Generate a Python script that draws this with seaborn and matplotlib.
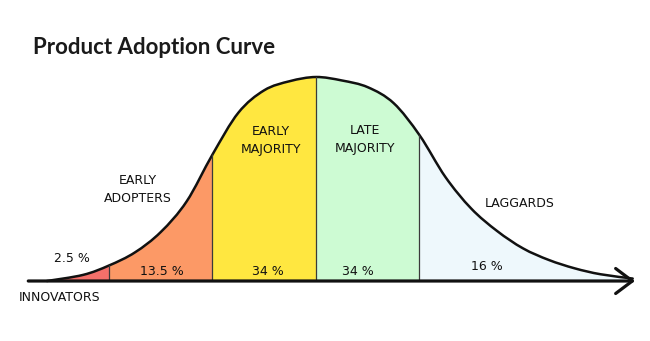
import numpy as np
import pandas as pd
import matplotlib
matplotlib.use("Agg")
import matplotlib.pyplot as plt
from matplotlib.path import Path
from matplotlib.patches import PathPatch
import seaborn as sns

# Adopter groups, their share of the market and the edges between them (in standard deviations)
segments = ["INNOVATORS", "EARLY ADOPTERS", "EARLY MAJORITY", "LATE MAJORITY", "LAGGARDS"]
shares = [2.5, 13.5, 34, 34, 16]
edges_sd = [-2.60, -2, -1, 0, 1, 3.06]
colors = ["#F4706A", "#FC9966", "#FFE740", "#CDFBD3", "#EEF8FC"]

# Hand-drawn adoption curve: position (sd from the mean) and relative height
curve_sd = [-2.60, -2.25, -2.00, -1.75, -1.50, -1.25, -1.00, -0.75, -0.50, -0.25,
            0.00, 0.25, 0.50, 0.75, 1.00, 1.25, 1.50, 1.75, 2.00, 2.25,
            2.50, 2.75, 3.06]
curve_height = [0.000, 0.030, 0.076, 0.140, 0.240, 0.390, 0.620, 0.825, 0.935, 0.980,
                1.000, 0.983, 0.950, 0.872, 0.715, 0.510, 0.355, 0.245, 0.160, 0.103,
                0.062, 0.033, 0.012]

sns.set_style("white")
plt.rcParams["font.family"] = ["DejaVu Sans"]

fig = plt.figure(figsize=(6.5, 3.41), dpi=100)
ax = fig.add_axes([0, 0, 1, 1])
ax.set_xlim(-316 / 103.5, (650 - 316) / 103.5)
ax.set_ylim(-(341 - 281) / 204, 281 / 204)
ax.axis("off")

curve = pd.DataFrame({"sd": curve_sd, "height": curve_height})
pts = curve[["sd", "height"]].to_numpy()


def smooth_path(p, close_to_base=False):
    """Cubic Bezier (Catmull-Rom) path running through every point of p."""
    padded = np.vstack([p[0], p, p[-1]])
    verts = [tuple(p[0])]
    codes = [Path.MOVETO]
    for i in range(1, len(padded) - 2):
        p0, p1, p2, p3 = padded[i - 1], padded[i], padded[i + 1], padded[i + 2]
        c1 = p1 + (p2 - p0) / 6
        c2 = p2 - (p3 - p1) / 6
        verts += [tuple(c1), tuple(c2), tuple(p2)]
        codes += [Path.CURVE4] * 3
    if close_to_base:
        verts += [(p[-1][0], 0), (p[0][0], 0), (p[0][0], 0)]
        codes += [Path.LINETO, Path.LINETO, Path.CLOSEPOLY]
    return Path(verts, codes)


# Area under the curve, used to clip the coloured bands and the dividers
area = PathPatch(smooth_path(pts, close_to_base=True), facecolor="none", lw=0,
                 transform=ax.transData)
ax.add_patch(area)

for lo, hi, c in zip(edges_sd[:-1], edges_sd[1:], colors):
    band = ax.axvspan(lo, hi, ymin=0, ymax=1, color=c, lw=0)
    band.set_clip_path(area)

for e in edges_sd[1:-1]:
    (div,) = ax.plot([e, e], [0, 1.2], color="#3a3a3a", lw=0.9)
    div.set_clip_path(area)

# The outline of the curve
ax.add_patch(PathPatch(smooth_path(pts), facecolor="none", edgecolor="#111111",
                       lw=1.8, capstyle="round", joinstyle="round"))

# Horizontal axis arrow
ax.annotate("", xy=(3.082, 0), xytext=(-2.78, 0),
            arrowprops=dict(arrowstyle="->,head_length=0.6,head_width=0.45",
                            lw=2.3, color="#111111", mutation_scale=20,
                            shrinkA=0, shrinkB=0))

txt = dict(ha="center", va="center", fontsize=9, color="#111111", linespacing=1.55)

# Percentage inside / near each band
pct_pos = [(-2.357, 0.108), (-1.488, 0.049), (-0.464, 0.049), (0.406, 0.049), (1.652, 0.0735)]
for s, (px, py) in zip(shares, pct_pos):
    ax.text(px, py, f"{s:g} %", **txt)

# Group names
name_pos = [(-2.473, -0.083), (-1.72, 0.449), (-0.435, 0.689), (0.473, 0.694), (1.971, 0.382)]
for name, (px, py) in zip(segments, name_pos):
    ax.text(px, py, name.replace(" ", "\n"), **txt)

fig.text(33 / 650, 1 - 47 / 341, "Product Adoption Curve", ha="left", va="center",
         fontsize=16, fontweight="bold", family=["Lato", "DejaVu Sans"], color="#1a1a1a")

fig.savefig("out.png", dpi=100)
